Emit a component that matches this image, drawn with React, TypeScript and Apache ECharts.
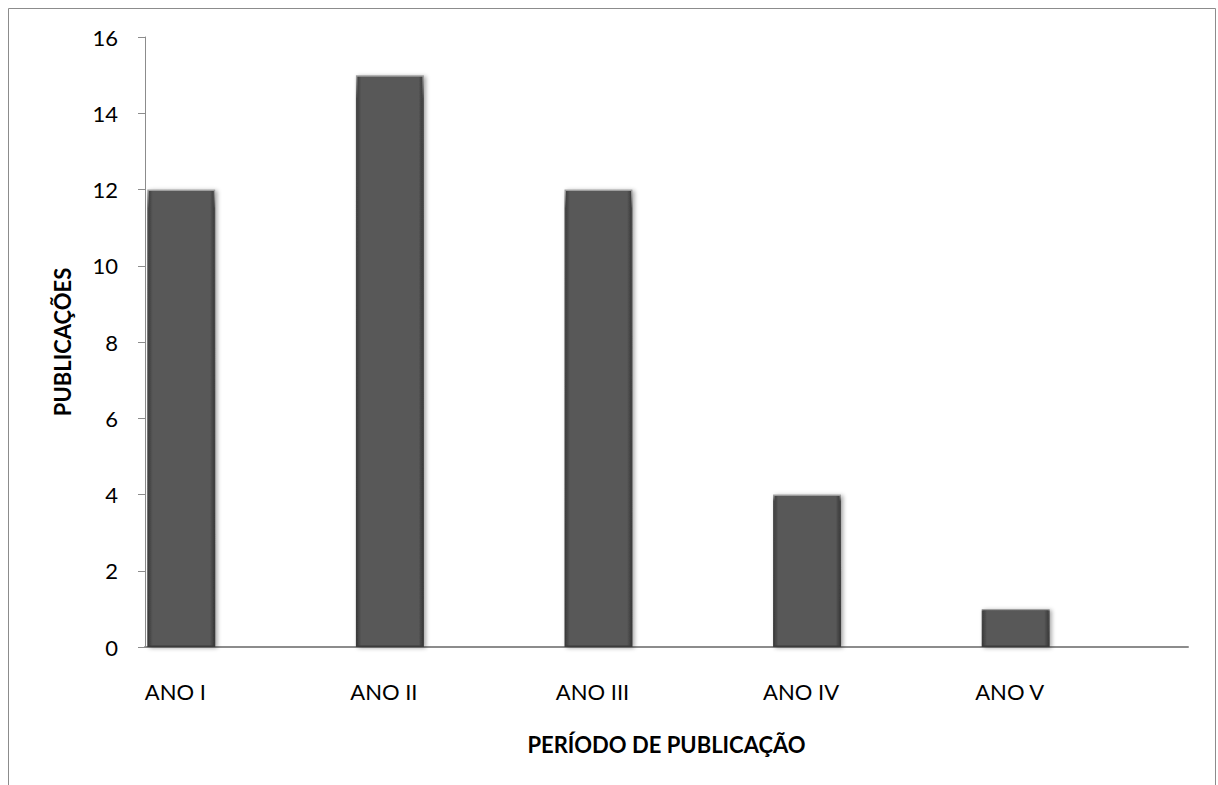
import React, { useEffect, useRef } from "react";
import * as echarts from "echarts";

const categories = ["ANO I", "ANO II", "ANO III", "ANO IV", "ANO V"];
const publications = [12, 15, 12, 4, 1];
const placeholderA: (number | null)[] = [null, null, null, null, null];
const placeholderB: (number | null)[] = [null, null, null, null, null];
const yTicks = { min: 0, max: 16, interval: 2 };

const FONT = "Lato";

export default function App() {
  const ref = useRef<HTMLDivElement>(null);
  useEffect(() => {
    if (!ref.current) return;
    const chart = echarts.init(ref.current, undefined, { renderer: "svg" });
    const barColor = new echarts.graphic.LinearGradient(0, 0, 1, 0, [
      { offset: 0, color: "#3c3c3c" },
      { offset: 0.07, color: "#585858" },
      { offset: 0.93, color: "#585858" },
      { offset: 1, color: "#383838" },
    ]);
    const barBorder = new echarts.graphic.LinearGradient(0, 0, 0, 1, [
      { offset: 0, color: "#a0a0a0" },
      { offset: 0.04, color: "#4a4a4a" },
      { offset: 1, color: "#3a3a3a" },
    ]);
    chart.setOption({
      animation: false,
      backgroundColor: "#ffffff",
      textStyle: { fontFamily: FONT },
      graphic: [
        {
          type: "rect",
          shape: { x: 8.5, y: 8.5, width: 1207, height: 800 },
          style: { fill: "none", stroke: "#8c8c8c", lineWidth: 1 },
          silent: true,
        },
      ],
      grid: { left: 145, right: 30, top: 37, bottom: 138 },
      xAxis: {
        type: "category",
        data: categories,
        boundaryGap: true,
        axisLine: { show: true, lineStyle: { color: "#8c8c8c", width: 2 } },
        axisTick: { show: false },
        axisLabel: {
          color: "#000",
          fontSize: 22,
          fontFamily: FONT,
          margin: 33,
          padding: [0, 148, 0, 0],
        },
        name: "PERÍODO DE PUBLICAÇÃO",
        nameLocation: "middle",
        nameGap: 86,
        nameTextStyle: { color: "#000", fontSize: 22, fontWeight: "bold", fontFamily: FONT },
      },
      yAxis: {
        type: "value",
        min: yTicks.min,
        max: yTicks.max,
        interval: yTicks.interval,
        splitLine: { show: false },
        axisLine: { show: true, lineStyle: { color: "#8c8c8c", width: 1 } },
        axisTick: { show: true, length: 7, lineStyle: { color: "#8c8c8c" } },
        axisLabel: { color: "#000", fontSize: 22, fontFamily: FONT, margin: 27 },
        name: "PUBLICAÇÕES",
        nameLocation: "middle",
        nameGap: 72,
        nameTextStyle: { color: "#000", fontSize: 22, fontWeight: "bold", fontFamily: FONT },
      },
      series: [
        {
          type: "bar",
          name: "Publicações",
          data: publications,
          barGap: "0%",
          barCategoryGap: "2.2%",
          itemStyle: {
            color: barColor,
            borderColor: barBorder,
            borderWidth: 1.5,
            shadowColor: "rgba(0,0,0,0.35)",
            shadowBlur: 4,
            shadowOffsetX: 2,
            shadowOffsetY: 1,
          },
        },
        { type: "bar", name: "b", data: placeholderA, barGap: "0%", barCategoryGap: "2.2%" },
        { type: "bar", name: "c", data: placeholderB, barGap: "0%", barCategoryGap: "2.2%" },
      ],
    });
    return () => chart.dispose();
  }, []);
  return (
    <div
      ref={ref}
      style={{ position: "fixed", left: 0, top: 0, width: 1218, height: 785 }}
    />
  );
}
